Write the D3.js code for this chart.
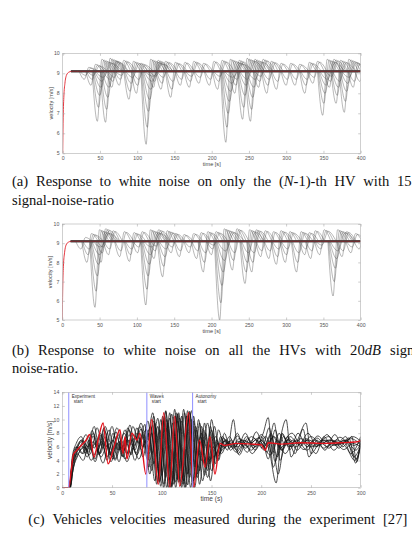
<!DOCTYPE html>
<html>
<head>
<meta charset="utf-8">
<script src="https://cdn.jsdelivr.net/npm/d3@7"></script>
<style>
  body { margin: 0; background: #fff; }
  svg { display: block; }
</style>
</head>
<body>
<script>
// ---- data ----

// start-up transient shared by all vehicles in (a) and (b)
const riseT = [0, 0.5, 1.5, 3, 5, 8, 12];
const riseV = [5, 6.5, 7.8, 8.5, 8.9, 9.05, 9.1];
const cruiseV = 9.1;
const bandLevels = [9.06, 9.1, 9.14];

// (a) disturbances: time of the dip, overshoot peak, minima of the vehicles in the fan
const aDipT = [29, 38, 46.5, 57.5, 66, 76, 89, 99, 112, 122, 132, 145, 158, 170, 183, 197, 208, 219,
  231, 241.5, 252, 263, 274, 287, 300, 312, 325, 336, 349, 358, 367, 378, 390, 399];
const aPeak = [9.3, 9.45, 9.7, 9.75, 9.6, 9.65, 9.6, 9.5, 9.7, 9.65, 9.6, 9.55, 9.55, 9.6, 9.5, 9.6, 9.65, 9.7,
  9.65, 9.75, 9.7, 9.7, 9.6, 9.5, 9.5, 9.45, 9.55, 9.6, 9.7, 9.7, 9.65, 9.7, 9.5, 9.3];
const aMins = [
  [8.7, 8.9], [8.4, 8.7, 8.9], [6.6, 7.3, 7.9, 8.3, 8.6, 8.8], [6.55, 7.2, 7.8, 8.3, 8.7],
  [8.3, 8.6, 8.8], [8.4, 8.7, 8.9], [7.7, 8.1, 8.5, 8.8], [8.0, 8.4, 8.7],
  [5.45, 6.3, 7.1, 7.7, 8.2, 8.6, 8.85], [8.3, 8.6, 8.85], [8.2, 8.5, 8.8], [7.8, 8.2, 8.6],
  [8.4, 8.7], [8.3, 8.6, 8.85], [8.5, 8.8], [8.4, 8.7], [8.2, 8.6, 8.85],
  [5.55, 6.3, 7.0, 7.6, 8.1, 8.5, 8.8], [8.0, 8.4, 8.7], [6.7, 7.3, 7.9, 8.4, 8.7],
  [6.6, 7.2, 7.8, 8.3, 8.7], [8.3, 8.6, 8.85], [8.0, 8.4, 8.7], [8.2, 8.6], [8.4, 8.7], [8.4, 8.7],
  [8.0, 8.4, 8.7], [8.5, 8.8], [6.9, 7.5, 8.0, 8.4, 8.7], [8.3, 8.6, 8.85], [7.5, 7.9, 8.3, 8.6],
  [7.05, 7.6, 8.1, 8.5, 8.8], [8.3, 8.6], [8.6]
];

// (b) disturbances
const bDipT = [25, 33, 43.8, 52, 62, 77, 90, 101, 112, 123, 134.5, 146, 157, 170, 180, 189, 200, 211,
  228, 245, 254, 266, 277, 287, 299, 314, 325, 333, 345, 363, 375, 387, 398];
const bPeak = [9.3, 9.5, 9.7, 9.75, 9.65, 9.6, 9.55, 9.6, 9.7, 9.7, 9.65, 9.5, 9.45, 9.5, 9.55, 9.6, 9.6, 9.75,
  9.75, 9.7, 9.7, 9.65, 9.6, 9.65, 9.6, 9.6, 9.55, 9.65, 9.7, 9.7, 9.6, 9.5, 9.35];
const bMins = [
  [8.7], [8.0, 8.4, 8.7], [5.66, 6.5, 7.3, 7.9, 8.4, 8.8], [8.0, 8.5, 8.8], [8.4, 8.7], [8.3, 8.6],
  [8.05, 8.4, 8.7], [8.5, 8.8], [5.78, 6.6, 7.3, 7.9, 8.4, 8.8], [8.2, 8.6, 8.85], [7.25, 7.8, 8.3, 8.7],
  [8.5, 8.8], [8.3, 8.6], [8.5, 8.8], [8.2, 8.6], [7.5, 8.0, 8.5], [8.4, 8.7, 8.9],
  [5.0, 5.9, 6.8, 7.5, 8.1, 8.6], [7.6, 8.1, 8.5], [6.9, 7.5, 8.0, 8.5], [7.5, 8.0, 8.5],
  [8.3, 8.6], [8.2, 8.6], [7.9, 8.3, 8.7], [8.0, 8.4, 8.7], [7.5, 8.0, 8.5], [8.4, 8.7],
  [8.2, 8.6], [8.4, 8.7, 8.9], [6.25, 7.0, 7.7, 8.2, 8.6], [8.3, 8.6], [8.5, 8.8], [8.7]
];

// (c) measured velocities, [time s, velocity m/s] at the turning points
const cRed = [[0,0],[6.5,0],[9,2.5],[11,4.8],[14,5.4],[19,6.2],[24,7],[27.5,7.8],[32,4.5],[36,7],[41,9.5],
  [46,3.5],[52,6],[58,8.5],[61,5],[63,7.5],[65,4.2],[70,8],[75,7],[78,8],[84,2],[90,10],[96.5,0.5],[102,11],
  [108,0],[113,10.5],[118,0.2],[127,11],[132,0],[138,7],[143.5,3],[148.5,7.5],[153.5,2],[158.5,6.5],[163,6.2],
  [175,6.5],[190,6.4],[200,6.3],[204,5.5],[207,6.6],[220,6.4],[240,6.6],[260,6.5],[280,6.6],[295,6.7],[300,6.9]];
const cBlack = [
  [[0,0],[7,0],[10,3.5],[14,5.5],[20,6.8],[26,5.2],[31,7.6],[37,4.8],[43,8.2],[49,5],[55,7.5],[61,4.5],[67,7.8],
   [73,5.5],[79,8.6],[86,5],[92,10.5],[98,1],[104,11.2],[110,0.3],[116,10.8],[122,0.5],[128,11],[134,1.5],[140,9],
   [146,2.5],[151,8],[156,4],[162,7.2],[170,6],[178,7.2],[186,6],[195,7],[203,5.5],[210,7.8],[216,4.5],[222,7.5],
   [230,6],[240,7.2],[250,6],[262,7],[272,6.2],[285,7],[295,5.5],[300,6.5]],
  [[0,0],[7.5,0],[11,4],[15,6],[21,5],[27,7],[33,4.2],[39,7.8],[45,4],[51,8],[57,5.5],[63,8.5],[69,4.8],[75,8],
   [81,6],[89,9],[95,0.5],[101,10.5],[107,0],[113,11.5],[119,0.3],[125,10.5],[131,0.8],[137,10],[143,1.8],[149,9],
   [154,3.5],[159,7.5],[166,5.5],[172,10],[177,5],[185,7.5],[194,6],[202,8],[207,10.3],[212,3],[218,6.5],[225,10],
   [230,4.5],[238,7.5],[245,9.5],[250,5],[258,6.5],[268,7.5],[278,5.8],[288,7.3],[295,3.6],[300,7.2]],
  [[0,0],[7,0],[9.5,3],[13,4.6],[18,6],[24,7.8],[29,5.5],[35,8.8],[41,5.8],[47,8.5],[53,4.2],[59,7],[65,5],[71,9],
   [77,6.5],[83,9.3],[87,3],[93,9.5],[99,0.2],[105,10],[111,1],[117,11],[123,0],[130,11.3],[136,2],[142,8.5],
   [148,3.5],[153,9],[158,5],[164,7],[172,5.8],[180,7],[190,5.5],[200,7.8],[208,5.5],[215,0.7],[221,8],[228,6],
   [236,7],[246,5.5],[256,7.3],[266,6],[276,7],[286,5.8],[294,4],[300,6]],
  [[0,0],[7.5,0],[10,2],[13,4],[17,5.2],[23,6],[29,4],[35,5.5],[41,3.6],[47,6.5],[53,4],[59,6],[65,3.8],[71,5.8],
   [77,4.2],[84,7],[90,2.5],[96,9],[102,0.5],[108,10.2],[114,0.8],[120,10.5],[126,0.4],[132,9.8],[138,2.5],[143,9.5],
   [149,1],[155,7],[160,5],[168,7.5],[175,5.5],[184,8],[192,5.8],[199,6.8],[206,5.2],[213,9.5],[219,4],[226,7.5],
   [234,5],[242,8.6],[248,4.5],[256,7],[264,5.5],[274,7.8],[282,6],[291,7.5],[296,3.8],[300,7]],
  [[0,0],[7,0],[10,4.5],[14,6.5],[19,7.5],[25,5.5],[31,8],[37,6],[43,9],[49,6.5],[55,8.8],[61,6],[67,8.5],[73,6.2],
   [79,9.5],[85,7],[91,11],[97,2],[103,10.5],[109,0],[115,11],[121,1.5],[127,10],[133,0],[139,7.5],[145,2.8],
   [150,10],[156,4.5],[162,6.8],[170,6.4],[176,8],[182,6],[190,7.5],[198,6.8],[205,7.5],[211,5],[218,8],[224,6.2],
   [232,7],[240,6.2],[250,7.5],[260,6.5],[270,7],[282,6.5],[292,7.5],[300,6.8]],
  [[0,0],[8,0],[11,3],[15,5],[21,4],[27,6.5],[33,3.8],[39,6.8],[45,4.5],[51,7],[57,3.8],[63,7.2],[69,5],[75,8.8],
   [81,4.5],[87,8],[93,1],[99,10],[105,0],[111,9.5],[117,0.8],[123,11],[129,0],[135,8.5],[141,1],[147,6.5],
   [152,3],[157,8.5],[163,5.8],[170,7],[178,4.8],[186,7.2],[194,5.5],[201,7],[207,4.2],[214,8.5],[220,5.5],
   [228,7.2],[236,5.5],[245,7],[255,5],[263,7.5],[273,5.5],[283,7],[290,5],[300,7.5]],
  [[0,0],[7,0],[10,3.8],[14,5.8],[20,7],[26,6],[32,9],[38,5],[44,7],[50,4.5],[56,7.8],[62,5.5],[68,9.2],[74,5],
   [80,7.5],[86,4],[92,9.8],[98,0.8],[104,11.3],[110,0],[116,9.8],[122,1],[128,11.2],[134,3],[140,8],[146,1.5],
   [152,6],[157,4],[163,8],[169,5.5],[177,6.8],[186,5.2],[195,8.2],[203,6],[210,8],[217,2],[223,6.5],[231,8],
   [239,6.5],[247,8],[256,6],[266,7.8],[275,6.3],[285,7.5],[293,4.5],[300,6.2]],
  [[0,0],[7.5,0],[10.5,3.2],[14,5],[19,6.2],[25,4.5],[31,6.8],[37,5],[43,7.5],[49,3.8],[55,6.5],[61,5.2],[67,7],
   [73,4],[79,7.2],[85,8.5],[90,5],[96,10.2],[102,0],[108,11],[114,0],[120,9.8],[126,2],[132,10.5],[138,0.5],
   [144,8],[150,2.5],[156,6.5],[161,6],[168,6.8],[176,6],[184,6.9],[192,6.2],[200,7.5],[206,6],[212,7.5],
   [219,5.8],[227,7],[235,6],[245,7.2],[254,6],[264,7],[275,6.2],[285,6.9],[293,6.2],[300,6.8]],
  [[0,0],[7,0],[10,4],[14,6],[20,5],[26,7.5],[32,5.8],[38,8],[44,6],[50,9],[56,5.5],[62,8],[68,6.5],[74,7.5],
   [80,5.5],[86,9.8],[92,3.5],[98,8.5],[104,1.5],[110,10.8],[116,1.2],[122,11.5],[128,1.5],[134,9],[140,4],
   [146,9.5],[152,4.5],[158,6],[165,7],[173,6],[181,7],[189,6.5],[197,7.3],[205,6.4],[213,7.5],[221,5.5],
   [229,7.5],[238,6.4],[248,7],[258,6.2],[268,7],[280,6.4],[290,7.2],[300,6.3]],
  [[0,0],[8,0],[11,2.8],[15,4.5],[21,6],[27,4.8],[33,6.5],[39,4.5],[45,6.2],[51,4.2],[57,6.8],[63,4.2],[69,6.5],
   [75,4.8],[82,7.8],[88,2],[94,8.8],[100,1.8],[106,9.5],[112,0.5],[118,10.2],[124,0],[130,10],[136,1.5],[142,7],
   [148,4],[154,7.5],[160,5.5],[167,6.5],[175,5.2],[183,6.6],[191,5],[199,6.5],[209,4.8],[216,7],[224,5],
   [233,6.8],[243,5.6],[253,7],[263,5.8],[273,6.8],[283,5.6],[292,6.5],[300,6]],
  [[0,0],[7,0],[10,3.6],[14,5.2],[19,7],[24,5],[30,8.4],[36,5.5],[42,8.8],[48,4.8],[54,8.2],[60,4.6],[66,8.8],
   [72,5.8],[78,9],[84,6.5],[90,8],[96,0.8],[102,9.8],[108,1.2],[114,10.5],[120,0],[126,11.3],[132,1],[138,9.5],
   [144,3.2],[150,8.5],[155,5],[161,7.5],[168,5.8],[176,7.6],[184,5.8],[193,7.2],[201,5.8],[208,8.8],[214,3.8],
   [221,7.8],[229,5.6],[237,8],[246,6],[257,7.6],[268,5.8],[279,7.4],[289,6],[296,4.2],[300,6.6]]
];
const cMarkT = [6.5, 85, 131];
const cMarkLabel = [["Experiment", "start"], ["Waves", "start"], ["Autonomy", "start"]];

const simTicksX = [0, 50, 100, 150, 200, 250, 300, 350, 400];
const simTicksY = [5, 6, 7, 8, 9, 10];
const expTicksX = [0, 50, 100, 150, 200, 250, 300];
const expTicksY = [0, 2, 4, 6, 8, 10, 12, 14];

// ---- drawing ----
const W = 412, H = 547;
const svg = d3.select("body").append("svg").attr("width", W).attr("height", H);
const defs = svg.append("defs");

function panel(id, box, xDom, yDom) {
  const x = d3.scaleLinear().domain(xDom).range([box.left, box.right]);
  const y = d3.scaleLinear().domain(yDom).range([box.bottom, box.top]);
  defs.append("clipPath").attr("id", id).append("rect")
    .attr("x", box.left).attr("y", box.top)
    .attr("width", box.right - box.left).attr("height", box.bottom - box.top);
  const g = svg.append("g").attr("clip-path", `url(#${id})`);
  return { x, y, g, box };
}

function axes(p, ticksX, ticksY, xLabel, labelSize) {
  const { x, y, box } = p;
  const ax = svg.append("g").attr("font-family", "'Liberation Sans', Arial, sans-serif");
  const styleAxis = sel => {
    sel.select(".domain").remove();
    sel.selectAll("line").attr("stroke", "#9a9a9a").attr("stroke-width", 0.5);
    sel.selectAll("text").attr("fill", "#555").attr("font-size", 5.2);
  };
  ax.append("g").attr("transform", `translate(0,${box.bottom})`)
    .call(d3.axisBottom(x).tickValues(ticksX).tickSize(-2.5).tickPadding(3.5).tickFormat(d3.format("d")))
    .call(styleAxis);
  ax.append("g").attr("transform", `translate(0,${box.top})`)
    .call(d3.axisTop(x).tickValues(ticksX).tickSize(-2.5).tickFormat("")).call(styleAxis);
  ax.append("g").attr("transform", `translate(${box.left},0)`)
    .call(d3.axisLeft(y).tickValues(ticksY).tickSize(-2.5).tickPadding(3).tickFormat(d3.format("d")))
    .call(styleAxis);
  ax.append("g").attr("transform", `translate(${box.right},0)`)
    .call(d3.axisRight(y).tickValues(ticksY).tickSize(-2.5).tickFormat("")).call(styleAxis);
  ax.append("rect")
    .attr("x", box.left).attr("y", box.top)
    .attr("width", box.right - box.left).attr("height", box.bottom - box.top)
    .attr("fill", "none").attr("stroke", "#b0b0b0").attr("stroke-width", 0.6);
  ax.append("text")
    .attr("x", (box.left + box.right) / 2).attr("y", box.bottom + labelSize + 7)
    .attr("text-anchor", "middle").attr("font-size", labelSize).attr("fill", "#444")
    .text(xLabel);
  ax.append("text")
    .attr("transform", `translate(${box.left - 10},${(box.top + box.bottom) / 2}) rotate(-90)`)
    .attr("text-anchor", "middle").attr("font-size", labelSize).attr("fill", "#444")
    .text("velocity [m/s]");
}

const smooth = d3.curveMonotoneX;

function simulation(p, dipT, peak, mins) {
  const { x, y, g } = p;
  const line = d3.line().x(d => x(d[0])).y(d => y(d[1])).curve(smooth);
  const rise = riseT.map((t, i) => [t, riseV[i]]);

  // reference (red), mostly hidden by the cruising band afterwards
  g.append("path")
    .datum(rise.concat([[20, cruiseV], [400, cruiseV]]))
    .attr("fill", "none").attr("stroke", "#e0202a").attr("stroke-width", 0.9)
    .attr("d", line);

  // vehicles cruising in the band
  bandLevels.forEach(level => {
    g.append("path")
      .datum([[11, level], [400, level]])
      .attr("fill", "none").attr("stroke", "#1a1a1a").attr("stroke-width", 0.7)
      .attr("d", line);
  });

  // fans of vehicles going through each disturbance
  dipT.forEach((t, k) => {
    mins[k].forEach((m, j) => {
      const tc = t + j * 1.6;
      const top = peak[k] - j * 0.04;
      const pts = [[tc - 7 - j * 0.8, cruiseV], [tc, m], [tc + 6 + j, top], [tc + 15 + j * 2, cruiseV]];
      g.append("path")
        .datum(pts)
        .attr("fill", "none").attr("stroke", "#444").attr("stroke-width", 0.45)
        .attr("stroke-opacity", 0.85)
        .attr("d", line);
    });
  });

  // faint red trace through the middle of the band
  g.append("path")
    .datum([[11, cruiseV], [400, cruiseV]])
    .attr("fill", "none").attr("stroke", "#b3262c").attr("stroke-width", 0.4)
    .attr("d", line);
}

// (a)
const pa = panel("clipA", { left: 62.7, right: 360.7, top: 53.3, bottom: 153.3 }, [0, 400], [5, 10]);
simulation(pa, aDipT, aPeak, aMins);
axes(pa, simTicksX, simTicksY, "time [s]", 5.6);

// (b)
const pb = panel("clipB", { left: 62.3, right: 360.7, top: 224, bottom: 320 }, [0, 400], [5, 10]);
simulation(pb, bDipT, bPeak, bMins);
axes(pb, simTicksX, simTicksY, "time [s]", 5.6);

// (c)
const pc = panel("clipC", { left: 62.3, right: 360.7, top: 392.3, bottom: 487.7 }, [0, 300], [0, 14]);
{
  const { x, y, g, box } = pc;
  const line = d3.line().x(d => x(d[0])).y(d => y(d[1])).curve(smooth);
  cBlack.forEach(tr => {
    g.append("path").datum(tr)
      .attr("fill", "none").attr("stroke", "#151515").attr("stroke-width", 0.75)
      .attr("d", line);
  });
  g.append("path").datum(cRed)
    .attr("fill", "none").attr("stroke", "#e3121b").attr("stroke-width", 1.4)
    .attr("d", line);
  cMarkT.forEach((t, i) => {
    g.append("line")
      .attr("x1", x(t)).attr("x2", x(t)).attr("y1", box.top).attr("y2", box.bottom)
      .attr("stroke", "#8f8fff").attr("stroke-width", 1);
    const lab = svg.append("text")
      .attr("font-family", "'Liberation Sans', Arial, sans-serif")
      .attr("font-size", 4.6).attr("fill", "#333");
    lab.append("tspan").attr("x", x(t) + 3).attr("y", box.top + 5.5).text(cMarkLabel[i][0]);
    lab.append("tspan").attr("x", x(t) + 5).attr("y", box.top + 11).text(cMarkLabel[i][1]);
  });
}
axes(pc, expTicksX, expTicksY, "time (s)", 6.6);

// ---- captions (justified like the LaTeX source) ----
const capFont = "'Liberation Serif', 'DejaVu Serif', serif";
const capSize = 14.6;

function caption(words, x0, baseline, lastStart) {
  const nodes = words.map(w => {
    const t = svg.append("text")
      .style("font-family", capFont).attr("font-size", capSize).attr("fill", "#111")
      .attr("y", baseline);
    w.forEach(part => {
      t.append("tspan").attr("font-style", part[1] ? "italic" : null).text(part[0]);
    });
    return t;
  });
  const widths = nodes.map(n => n.node().getComputedTextLength());
  let gap = capSize * 0.3;
  if (lastStart != null && nodes.length > 1) {
    const used = d3.sum(widths.slice(0, -1));
    gap = (lastStart - x0 - used) / (nodes.length - 1);
  }
  let cx = x0;
  nodes.forEach((n, i) => { n.attr("x", cx); cx += widths[i] + gap; });
}
const plain = s => s.split(" ").map(w => [[w, false]]);

caption([...plain("(a) Response to white noise on only the"),
  [["(", false], ["N", true], ["-1)-th", false]], ...plain("HV with 15")],
  12, 186, 397);
caption(plain("signal-noise-ratio"), 12, 204.5, null);
caption([...plain("(b) Response to white noise on all the HVs with"), [["20", false], ["dB", true]],
  [["signal-", false]]], 12, 355, 390);
caption(plain("noise-ratio."), 12, 372.5, null);
caption(plain("(c) Vehicles velocities measured during the experiment [27]"), 28.3, 524, 383);
</script>
</body>
</html>
